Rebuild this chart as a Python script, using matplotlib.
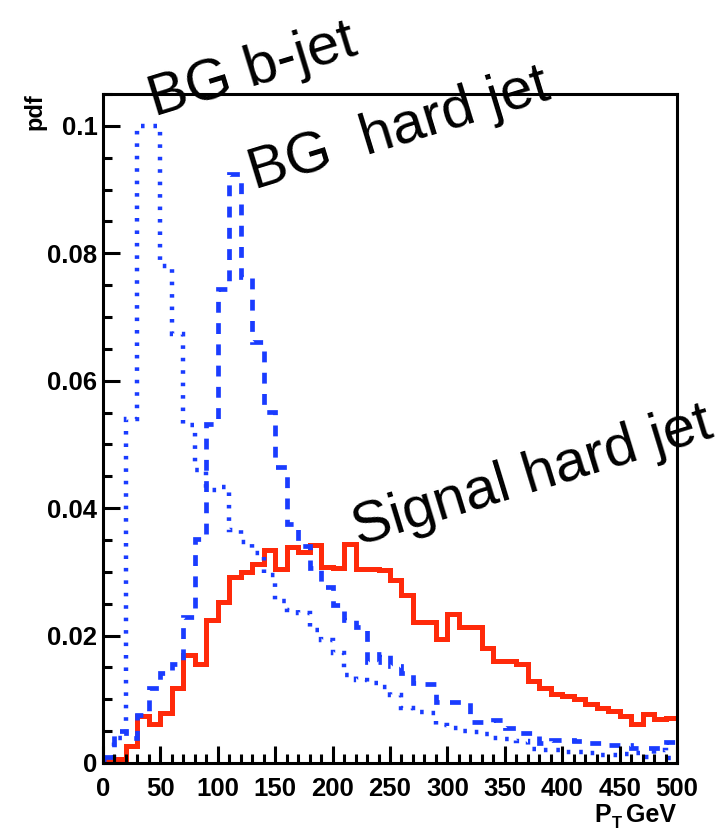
import numpy as np
import matplotlib
matplotlib.use("Agg")
import matplotlib.pyplot as plt

# pT bins, 10 GeV wide
edges = np.arange(0, 510, 10)

# signal hard jet (solid red)
signal = [0.0005, 0.0007, 0.0027, 0.0074, 0.0061, 0.0079, 0.0118, 0.0169, 0.0156, 0.0224,
          0.0252, 0.0292, 0.0300, 0.0313, 0.0334, 0.0305, 0.0339, 0.0331, 0.0342, 0.0307,
          0.0306, 0.0344, 0.0305, 0.0305, 0.0303, 0.0287, 0.0263, 0.0221, 0.0221, 0.0195,
          0.0234, 0.0213, 0.0213, 0.0181, 0.0160, 0.0160, 0.0155, 0.0129, 0.0118, 0.0108,
          0.0105, 0.0100, 0.0092, 0.0087, 0.0082, 0.0074, 0.0061, 0.0077, 0.0069, 0.0071]

# BG hard jet (dashed blue)
bg_hard = [0.0010, 0.0050, 0.0039, 0.0075, 0.0117, 0.0141, 0.0156, 0.0229, 0.0352, 0.0532,
           0.0744, 0.0925, 0.0762, 0.0660, 0.0551, 0.0464, 0.0375, 0.0340, 0.0306, 0.0276,
           0.0248, 0.0225, 0.0214, 0.0159, 0.0171, 0.0152, 0.0141, 0.0125, 0.0124, 0.0096,
           0.0096, 0.0096, 0.0064, 0.0064, 0.0067, 0.0055, 0.0047, 0.0047, 0.0032, 0.0036,
           0.0036, 0.0035, 0.0032, 0.0032, 0.0029, 0.0029, 0.0023, 0.0024, 0.0024, 0.0033]

# BG b-jet (dotted blue)
bg_bjet = [0.0005, 0.0040, 0.0540, 0.1000, 0.1000, 0.0780, 0.0673, 0.0530, 0.0460, 0.0428,
           0.0433, 0.0365, 0.0347, 0.0329, 0.0295, 0.0255, 0.0240, 0.0235, 0.0208, 0.0193,
           0.0172, 0.0138, 0.0130, 0.0125, 0.0120, 0.0107, 0.0086, 0.0080, 0.0078, 0.0060,
           0.0055, 0.0050, 0.0048, 0.0045, 0.0040, 0.0037, 0.0035, 0.0022, 0.0020, 0.0020,
           0.0018, 0.0017, 0.0015, 0.0012, 0.0013, 0.0014, 0.0016, 0.0010, 0.0020, 0.0008]

xticks = [0, 50, 100, 150, 200, 250, 300, 350, 400, 450, 500]
yticks = [0, 0.02, 0.04, 0.06, 0.08, 0.1]
yticklabels = ["0", "0.02", "0.04", "0.06", "0.08", "0.1"]

plt.rcParams["font.family"] = ["Liberation Sans", "DejaVu Sans"]

blue = "#1a3cff"
red = "#ff2a0a"

fig = plt.figure(figsize=(7.24, 8.31), dpi=100)
ax = fig.add_axes([103 / 724, 1 - 763 / 831, 574 / 724, 669 / 831])

ax.stairs(signal, edges, baseline=None, color=red, lw=3.6)
ax.stairs(bg_hard, edges, baseline=None, color=blue, lw=3.4,
          linestyle=(0, (2.3, 2.2)))
ax.stairs(bg_bjet, edges, baseline=None, color=blue, lw=3.2,
          linestyle=(0, (0.8, 2.0)))

ax.set_xlim(0, 500)
ax.set_ylim(0, 0.105)

for s in ax.spines.values():
    s.set_linewidth(2.2)

ax.set_xticks(xticks)
ax.set_xticks(np.arange(0, 501, 10), minor=True)
ax.set_yticks(yticks)
ax.set_yticklabels(yticklabels)
ax.set_yticks(np.arange(0, 0.1051, 0.005), minor=True)
ax.tick_params(which="both", direction="in", top=False, right=False, width=2.2)
ax.tick_params(which="major", length=12.5)
ax.tick_params(which="minor", length=6.5)
ax.tick_params(axis="x", which="major", pad=10)
ax.tick_params(axis="y", which="major", pad=4)
for lab in ax.get_xticklabels() + ax.get_yticklabels():
    lab.set_weight("bold")
    lab.set_fontsize(18.5)

fig.text(35 / 724, 1 - 93 / 831, "pdf", rotation=90, ha="center", va="top",
         weight="bold", fontsize=17)
# x title: P with subscript T, then GeV
fig.text(594 / 724, 1 - 822 / 831, "P", ha="left", va="baseline",
         weight="bold", fontsize=18)
fig.text(612 / 724, 1 - 828 / 831, "T", ha="left", va="baseline",
         weight="bold", fontsize=12)
fig.text(676 / 724, 1 - 822 / 831, "GeV", ha="right", va="baseline",
         weight="bold", fontsize=18)

# rotated labels
ann = dict(rotation=17, rotation_mode="anchor", ha="left", va="baseline",
           fontsize=42, color="black")
fig.text(154 / 724, 1 - 117 / 831, "BG b-jet", **ann)
fig.text(254 / 724, 1 - 190 / 831, "BG  hard jet", **ann)
fig.text(358 / 724, 1 - 546 / 831, "Signal hard jet", **ann)

fig.savefig("out.png", dpi=100)
